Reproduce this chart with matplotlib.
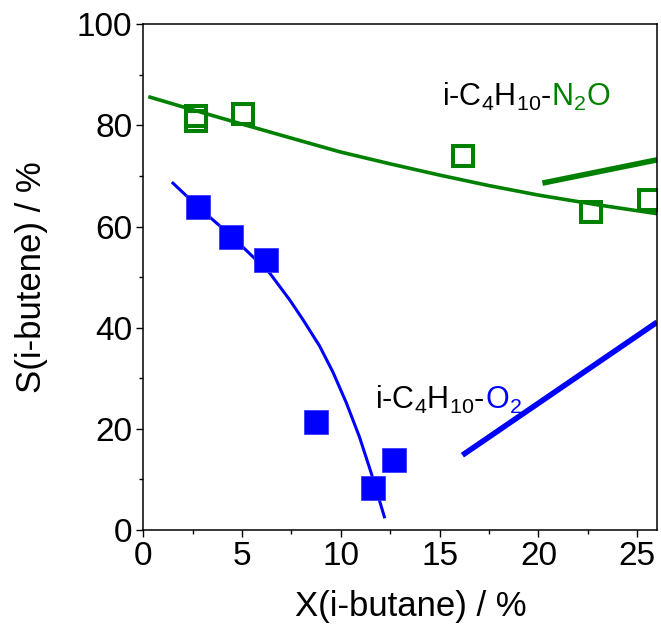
import matplotlib
matplotlib.use('Agg')
import matplotlib.pyplot as plt
from matplotlib.ticker import MultipleLocator

plt.rcParams['font.family'] = ['Liberation Sans', 'DejaVu Sans']
plt.rcParams['mathtext.default'] = 'regular'

# measured points, i-C4H10 + N2O (open squares)
x_n2o = [2.65, 2.65, 5.07, 16.2, 22.68, 25.6]
y_n2o = [81.9, 80.9, 82.3, 74.0, 62.9, 65.3]

# measured points, i-C4H10 + O2 (filled squares)
x_o2 = [2.78, 4.46, 6.23, 8.76, 11.63, 12.71]
y_o2 = [63.8, 57.9, 53.3, 21.4, 8.4, 13.9]

# guide curves
curve_n2o_x = [0.34, 2.5, 4.88, 7.4, 9.93, 12.5, 14.98, 17.5, 20.04, 23.0, 26.1]
curve_n2o_y = [85.6, 83.1, 80.4, 77.6, 74.8, 72.4, 70.2, 68.1, 66.2, 64.3, 62.5]
curve_o2_x = [1.5, 2.8, 4.5, 6.4, 7.41, 8.08, 8.92, 9.6, 10.27, 10.94, 11.54, 12.2]
curve_o2_y = [68.6, 63.8, 58.0, 50.8, 45.5, 41.6, 36.4, 31.2, 25.2, 18.4, 11.2, 2.6]

# straight thick segments
seg_n2o_x = [20.2, 26.0]
seg_n2o_y = [68.6, 73.2]
seg_o2_x = [16.15, 26.0]
seg_o2_y = [14.8, 41.1]

green = '#008000'
blue = '#0000ff'

fig = plt.figure(figsize=(6.61, 6.27), dpi=100)
ax = fig.add_axes([0.2168, 0.1547, 0.7772, 0.8065])

ax.plot(curve_n2o_x, curve_n2o_y, color=green, lw=2.6)
ax.plot(seg_n2o_x, seg_n2o_y, color=green, lw=4.0, solid_capstyle='butt')
ax.plot(curve_o2_x, curve_o2_y, color=blue, lw=2.2)
ax.plot(seg_o2_x, seg_o2_y, color=blue, lw=4.0, solid_capstyle='butt')

ax.plot(x_n2o, y_n2o, 's', ms=15, mfc='none', mec=green, mew=2.9)
ax.plot(x_o2, y_o2, 's', ms=17, mfc=blue, mec='#3a3aff', mew=0.6)

ax.set_xlim(0, 26)
ax.set_ylim(0, 100)
ax.xaxis.set_major_locator(MultipleLocator(5))
ax.xaxis.set_minor_locator(MultipleLocator(2.5))
ax.yaxis.set_major_locator(MultipleLocator(20))
ax.yaxis.set_minor_locator(MultipleLocator(10))
ax.tick_params(which='both', direction='out', width=1.0, labelsize=24, pad=3)
ax.tick_params(which='major', length=5)
ax.tick_params(which='minor', length=3)
for s in ax.spines.values():
    s.set_linewidth(1.1)

ax.set_xlabel('X(i-butane) / %', fontsize=25, va='center')
ax.set_ylabel('S(i-butene) / %', fontsize=25, va='center')
ax.xaxis.set_label_coords(0.521, -0.152)
ax.yaxis.set_label_coords(-0.217, 0.5)

fs = 22
t1 = ax.text(15.1, 85.6, 'i-C$_4$H$_{10}$-', fontsize=fs, color='black', va='center')
ax.annotate('N$_2$O', xy=(1, 0), xycoords=t1, va='bottom', ha='left', fontsize=fs, color=green)
t2 = ax.text(11.75, 25.8, 'i-C$_4$H$_{10}$-', fontsize=fs, color='black', va='center')
ax.annotate('O$_2$', xy=(1, 0), xycoords=t2, va='bottom', ha='left', fontsize=fs, color=blue)

fig.savefig('out.png', dpi=100)
